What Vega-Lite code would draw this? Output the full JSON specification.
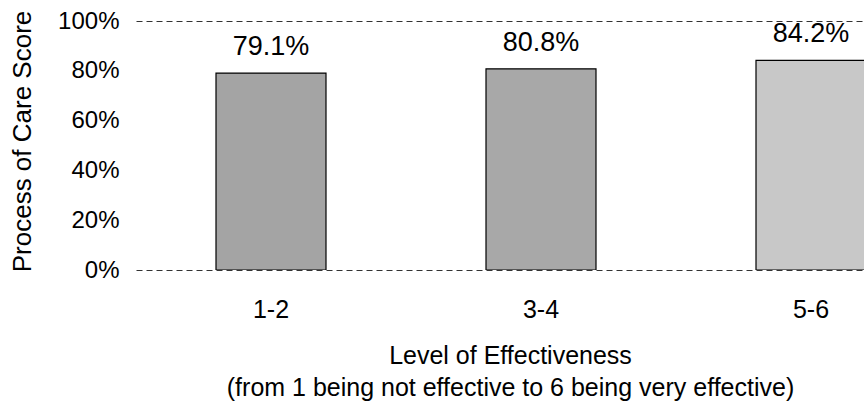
{
  "$schema": "https://vega.github.io/schema/vega-lite/v6.json",
  "width": 728,
  "height": 249,
  "autosize": "none",
  "padding": {"left": 136, "top": 21, "right": 0, "bottom": 138},
  "background": "white",
  "config": {
    "view": {"stroke": null},
    "font": "Liberation Sans"
  },
  "data": {
    "values": [
      {"level": "1-2", "score": 0.791, "label": "79.1%"},
      {"level": "3-4", "score": 0.808, "label": "80.8%"},
      {"level": "5-6", "score": 0.842, "label": "84.2%"}
    ]
  },
  "encoding": {
    "x": {
      "field": "level",
      "type": "nominal",
      "sort": null,
      "scale": {"range": [0, 810], "paddingInner": 0.5926, "paddingOuter": 0.2963},
      "axis": {
        "labelAngle": 0,
        "labelFontSize": 25,
        "labelColor": "#000",
        "labelPadding": 27,
        "ticks": false,
        "domain": false,
        "title": ["Level of Effectiveness", "(from 1 being not effective to 6 being very effective)"],
        "titleFontSize": 25,
        "titleFontWeight": "normal",
        "titleColor": "#000",
        "titleLineHeight": 32,
        "titlePadding": 21,
        "titleX": 374
      }
    },
    "y": {
      "field": "score",
      "type": "quantitative",
      "scale": {"domain": [0, 1], "nice": false},
      "axis": {
        "values": [0, 0.2, 0.4, 0.6, 0.8, 1],
        "format": ".0%",
        "labelFontSize": 24,
        "labelColor": "#000",
        "labelPadding": 17,
        "ticks": false,
        "domain": false,
        "grid": true,
        "gridColor": "#000",
        "gridDash": [6, 4],
        "gridWidth": 1,
        "gridOpacity": {"condition": {"test": "datum.value == 0 || datum.value == 1", "value": 0.8}, "value": 0},
        "title": "Process of Care Score",
        "titleFontSize": 26,
        "titleFontWeight": "normal",
        "titleColor": "#000",
        "titleX": -114,
        "titleY": 120,
        "titleAlign": "center",
        "titleBaseline": "middle"
      }
    }
  },
  "layer": [
    {
      "mark": {"type": "bar", "stroke": "#000", "strokeWidth": 1.2, "clip": true},
      "encoding": {
        "color": {
          "field": "level",
          "type": "nominal",
          "scale": {"domain": ["1-2", "3-4", "5-6"], "range": ["#a4a4a4", "#a8a8a8", "#c8c8c8"]},
          "legend": null
        }
      }
    },
    {
      "mark": {"type": "text", "fontSize": 27, "color": "#000", "baseline": "alphabetic", "dy": -18},
      "encoding": {"text": {"field": "label"}}
    }
  ]
}
